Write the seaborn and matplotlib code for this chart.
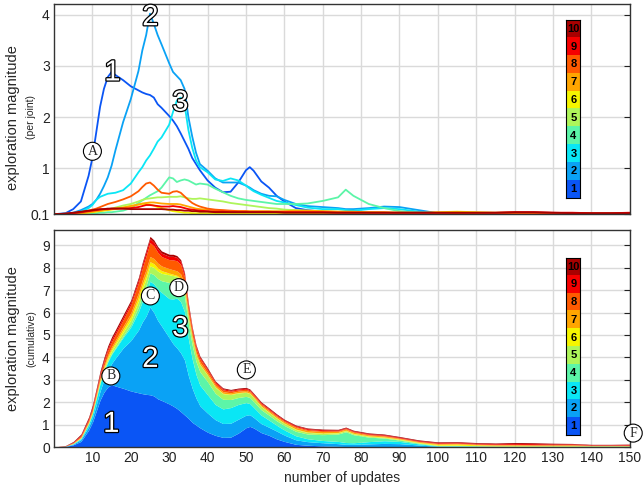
import numpy as np
import pandas as pd
import matplotlib
matplotlib.use("Agg")
import matplotlib.pyplot as plt
import matplotlib.patheffects as pe
from matplotlib.colors import ListedColormap
import seaborn as sns

# ---------------- data ----------------
updates = [0, 3, 5, 7, 9, 10, 11, 12, 13, 14, 15, 16, 18, 20, 22, 23, 24, 25, 26, 27,
           28, 30, 31, 32, 33, 34, 35, 36, 37, 38, 40, 42, 44, 46, 48, 50, 51, 52, 54, 56,
           58, 60, 63, 66, 70, 74, 76, 78, 82, 86, 90, 95, 100, 105, 110, 115, 120, 125,
           130, 135, 140, 145, 150]

joint1 = [0.00, 0.02, 0.10, 0.25, 0.75, 1.10, 1.60, 2.10, 2.45, 2.68,
          2.78, 2.72, 2.62, 2.50, 2.42, 2.38, 2.35, 2.33, 2.28, 2.15,
          2.08, 1.92, 1.83, 1.72, 1.58, 1.43, 1.28, 1.10, 0.98, 0.86,
          0.66, 0.52, 0.43, 0.44, 0.62, 0.86, 0.92, 0.85, 0.64, 0.52,
          0.36, 0.25, 0.12, 0.08, 0.05, 0.03, 0.02, 0.02, 0.02, 0.01,
          0.01, 0.01, 0.01, 0.01, 0.01, 0.01, 0.01, 0.01, 0.01, 0.01, 0.01, 0.01, 0.01]
joint2 = [0.00, 0.01, 0.03, 0.08, 0.15, 0.20, 0.28, 0.40, 0.55, 0.72,
          0.95, 1.25, 1.80, 2.25, 2.80, 3.20, 3.50, 3.92, 3.72, 3.50,
          3.32, 2.95, 2.78, 2.70, 2.62, 2.45, 1.90, 1.52, 1.20, 0.98,
          0.85, 0.70, 0.62, 0.62, 0.62, 0.56, 0.52, 0.47, 0.40, 0.36,
          0.35, 0.28, 0.20, 0.16, 0.14, 0.12, 0.10, 0.10, 0.12, 0.15,
          0.14, 0.08, 0.02, 0.02, 0.01, 0.01, 0.01, 0.01, 0.01, 0.01, 0.01, 0.01, 0.01]
joint3 = [0.00, 0.01, 0.02, 0.05, 0.12, 0.18, 0.28, 0.34, 0.37, 0.40,
          0.41, 0.42, 0.47, 0.60, 0.82, 0.92, 1.05, 1.15, 1.28, 1.42,
          1.50, 1.75, 2.00, 2.22, 2.28, 2.15, 1.65, 1.30, 1.05, 0.92,
          0.82, 0.68, 0.65, 0.70, 0.66, 0.56, 0.50, 0.45, 0.38, 0.32,
          0.26, 0.23, 0.18, 0.13, 0.10, 0.10, 0.08, 0.07, 0.10, 0.12,
          0.10, 0.05, 0.02, 0.02, 0.02, 0.01, 0.01, 0.01, 0.01, 0.01, 0.01, 0.01, 0.01]
joint4 = [0.00, 0.00, 0.00, 0.01, 0.01, 0.02, 0.02, 0.03, 0.03, 0.04,
          0.04, 0.05, 0.07, 0.12, 0.22, 0.27, 0.32, 0.37, 0.41, 0.45,
          0.52, 0.72, 0.70, 0.63, 0.66, 0.68, 0.66, 0.62, 0.58, 0.60,
          0.58, 0.50, 0.43, 0.36, 0.31, 0.28, 0.27, 0.26, 0.24, 0.22,
          0.20, 0.20, 0.20, 0.21, 0.26, 0.33, 0.48, 0.36, 0.20, 0.12,
          0.06, 0.03, 0.01, 0.01, 0.01, 0.01, 0.01, 0.01, 0.01, 0.01, 0.01, 0.01, 0.01]
joint5 = [0.00, 0.00, 0.01, 0.02, 0.04, 0.05, 0.06, 0.07, 0.08, 0.10,
          0.11, 0.13, 0.17, 0.20, 0.25, 0.28, 0.30, 0.31, 0.32, 0.33,
          0.33, 0.34, 0.34, 0.34, 0.35, 0.33, 0.31, 0.30, 0.30, 0.31,
          0.29, 0.27, 0.25, 0.22, 0.20, 0.18, 0.17, 0.16, 0.14, 0.12,
          0.11, 0.09, 0.08, 0.07, 0.06, 0.05, 0.05, 0.04, 0.04, 0.03,
          0.03, 0.02, 0.02, 0.02, 0.01, 0.01, 0.01, 0.01, 0.01, 0.01, 0.01, 0.01, 0.01]
joint6 = [0.00, 0.00, 0.01, 0.02, 0.03, 0.04, 0.05, 0.06, 0.07, 0.08,
          0.09, 0.10, 0.13, 0.16, 0.19, 0.20, 0.20, 0.19, 0.17, 0.14,
          0.12, 0.08, 0.06, 0.05, 0.04, 0.03, 0.03, 0.02, 0.02, 0.02,
          0.02, 0.02, 0.02, 0.02, 0.02, 0.02, 0.02, 0.02, 0.02, 0.02,
          0.02, 0.02, 0.02, 0.02, 0.02, 0.02, 0.02, 0.02, 0.02, 0.02,
          0.02, 0.02, 0.04, 0.05, 0.04, 0.03, 0.03, 0.02, 0.02, 0.02, 0.01, 0.01, 0.01]
joint7 = [0.00, 0.00, 0.01, 0.02, 0.04, 0.05, 0.06, 0.07, 0.08, 0.09,
          0.10, 0.11, 0.13, 0.16, 0.19, 0.21, 0.22, 0.23, 0.23, 0.22,
          0.21, 0.20, 0.20, 0.20, 0.19, 0.17, 0.15, 0.13, 0.11, 0.10,
          0.09, 0.08, 0.07, 0.06, 0.06, 0.06, 0.06, 0.06, 0.06, 0.06,
          0.06, 0.06, 0.07, 0.07, 0.06, 0.05, 0.05, 0.05, 0.04, 0.04,
          0.03, 0.03, 0.03, 0.03, 0.02, 0.02, 0.02, 0.02, 0.02, 0.02, 0.01, 0.01, 0.01]
joint8 = [0.00, 0.01, 0.02, 0.04, 0.07, 0.09, 0.11, 0.14, 0.17, 0.20,
          0.22, 0.24, 0.29, 0.35, 0.45, 0.53, 0.60, 0.62, 0.56, 0.48,
          0.42, 0.40, 0.44, 0.45, 0.42, 0.35, 0.28, 0.22, 0.18, 0.15,
          0.11, 0.09, 0.08, 0.07, 0.06, 0.06, 0.05, 0.05, 0.05, 0.05,
          0.04, 0.04, 0.04, 0.04, 0.04, 0.03, 0.03, 0.03, 0.03, 0.03,
          0.02, 0.02, 0.02, 0.02, 0.02, 0.02, 0.02, 0.02, 0.02, 0.02, 0.01, 0.01, 0.01]
joint9 = [0.00, 0.01, 0.02, 0.04, 0.06, 0.07, 0.08, 0.09, 0.10, 0.10,
          0.11, 0.11, 0.11, 0.12, 0.14, 0.16, 0.18, 0.18, 0.17, 0.16,
          0.15, 0.15, 0.16, 0.15, 0.14, 0.12, 0.10, 0.09, 0.08, 0.07,
          0.06, 0.05, 0.05, 0.04, 0.04, 0.04, 0.04, 0.04, 0.04, 0.04,
          0.04, 0.04, 0.04, 0.04, 0.04, 0.03, 0.03, 0.03, 0.03, 0.03,
          0.03, 0.03, 0.03, 0.03, 0.03, 0.03, 0.04, 0.04, 0.03, 0.03, 0.02, 0.02, 0.03]
joint10 = [0.00, 0.01, 0.03, 0.05, 0.07, 0.08, 0.09, 0.10, 0.10, 0.11,
           0.11, 0.11, 0.11, 0.10, 0.10, 0.10, 0.10, 0.10, 0.10, 0.10,
           0.10, 0.09, 0.09, 0.08, 0.08, 0.07, 0.07, 0.06, 0.06, 0.05,
           0.05, 0.04, 0.04, 0.04, 0.04, 0.04, 0.04, 0.04, 0.04, 0.04,
           0.04, 0.03, 0.03, 0.03, 0.03, 0.03, 0.03, 0.03, 0.03, 0.03,
           0.03, 0.03, 0.03, 0.03, 0.03, 0.03, 0.04, 0.04, 0.03, 0.02, 0.02, 0.02, 0.02]

joint_names = ["1", "2", "3", "4", "5", "6", "7", "8", "9", "10"]
joint_colors = ["#0a55f5", "#0aa2f5", "#0ae6f5", "#5cf5a8", "#aef55a",
                "#f5f500", "#ffa500", "#ff5a00", "#f50000", "#a80000"]
baseline = 0.1
x_ticks = [10, 20, 30, 40, 50, 60, 70, 80, 90, 100, 110, 120, 130, 140, 150]
top_yticks = [0.1, 1, 2, 3, 4]
bottom_yticks = list(range(10))

series = [joint1, joint2, joint3, joint4, joint5, joint6, joint7, joint8, joint9, joint10]

rows = []
for name, vals in zip(joint_names, series):
    for u, v in zip(updates, vals):
        rows.append({"update": u, "joint": name, "value": v + baseline})
df = pd.DataFrame(rows)

# ---------------- style ----------------
sns.set_theme(style="white")
plt.rcParams['font.family'] = ['Liberation Sans', 'DejaVu Sans']

fig = plt.figure(figsize=(6.44, 4.88), dpi=100)
ax1 = fig.add_axes([0.0839, 0.561, 0.894, 0.431])
ax2 = fig.add_axes([0.0839, 0.084, 0.894, 0.445])

def style_axis(ax):
    ax.grid(True, color="#dadada", linewidth=1.0)
    ax.set_axisbelow(True)
    for s in ax.spines.values():
        s.set_color("#333333")
        s.set_linewidth(1.0)
    ax.tick_params(direction="in", length=4, width=0.8, right=True, top=False,
                   labelsize=10, colors="#222222", pad=3)
    ax.set_xlim(0, 150)
    ax.set_xticks(x_ticks)

# ---------------- top panel ----------------
sns.lineplot(data=df, x="update", y="value", hue="joint", hue_order=joint_names,
             palette=joint_colors, legend=False, ax=ax1, linewidth=1.3,
             sort=False, estimator=None)
style_axis(ax1)
ax1.set_ylim(baseline, 4.21)
ax1.set_yticks(top_yticks)
ax1.set_yticklabels(["0.1", "1", "2", "3", "4"])
ax1.tick_params(labelbottom=False)
ax1.set_xlabel("")
ax1.set_ylabel("")

# ---------------- bottom panel ----------------
ax2.stackplot(updates, *series, colors=joint_colors, linewidth=0)
style_axis(ax2)
ax2.set_ylim(0, 9.69)
ax2.set_yticks(bottom_yticks)
ax2.set_xlabel("number of updates", fontsize=10, labelpad=4)
ax2.set_ylabel("")

# y labels
for ax, sub, yc in [(ax1, "(per joint)", 0.46), (ax2, "(cumulative)", 0.5)]:
    ax.text(-0.071, yc, "exploration magnitude", transform=ax.transAxes,
            rotation=90, ha="center", va="center", fontsize=10.5)
    ax.text(-0.040, yc, sub, transform=ax.transAxes,
            rotation=90, ha="center", va="center", fontsize=7.5)

# outlined big numbers
outline = [pe.withStroke(linewidth=1.8, foreground="black")]
for ax, pts in [(ax1, [(15.2, 2.87, "1"), (25.1, 3.95, "2"), (32.9, 2.28, "3")]),
                (ax2, [(14.9, 1.03, "1"), (25.1, 3.93, "2"), (32.9, 5.3, "3")])]:
    for x, y, t in pts:
        ax.text(x, y, t, fontsize=21, color="white", ha="center", va="center",
                path_effects=outline, zorder=6)

# circled letters
circ = dict(boxstyle="circle,pad=0.18", fc="white", ec="black", lw=0.8)
ax1.text(10.0, 1.33, "A", family="Liberation Serif", fontsize=10, ha="center",
         va="center", bbox=circ, zorder=7)
for x, y, t in [(14.8, 3.17, "B"), (25.1, 6.74, "C"), (32.5, 7.11, "D"),
                (50.1, 3.44, "E"), (150.9, 0.62, "F")]:
    ax2.text(x, y, t, family="Liberation Serif", fontsize=10, ha="center",
             va="center", bbox=circ, zorder=7, clip_on=False)

# colour key boxes
cmap = ListedColormap(joint_colors)
for ax, rect in [(ax1, [0.890, 0.076, 0.024, 0.848]), (ax2, [0.890, 0.055, 0.024, 0.816])]:
    ins = ax.inset_axes(rect)
    ins.imshow(np.arange(10)[::-1].reshape(-1, 1), cmap=cmap, aspect="auto",
               vmin=-0.5, vmax=9.5)
    ins.set_xticks([])
    ins.set_yticks([])
    for s in ins.spines.values():
        s.set_color("black")
        s.set_linewidth(0.8)
    for i in range(10):
        ins.text(0, i, joint_names[9 - i], ha="center", va="center",
                 fontsize=8, fontweight="bold", color="black")

fig.savefig("out.png", dpi=100)
